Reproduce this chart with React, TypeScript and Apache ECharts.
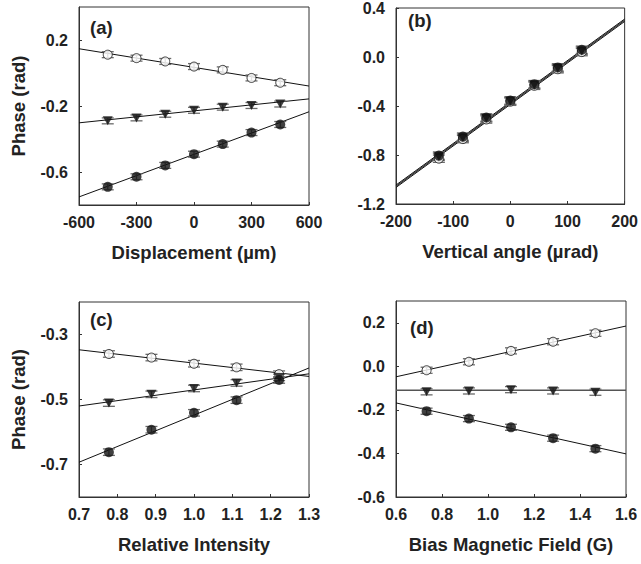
import React, { useEffect, useRef } from "react";
import * as echarts from "echarts";

// Panel (a): Displacement (µm)
const aX = [-450, -300, -150, 0, 150, 300, 450];
const aOpen = [0.111, 0.09, 0.07, 0.039, 0.019, -0.03, -0.059];
const aTri = [-0.29, -0.272, -0.25, -0.226, -0.207, -0.197, -0.188];
const aFilled = [-0.69, -0.629, -0.56, -0.492, -0.431, -0.361, -0.312];
const aErr = [0.018, 0.018, 0.018, 0.018, 0.018, 0.018, 0.018];
const aFitX = [-600, 600];
const aOpenFit = [0.147, -0.079];
const aTriFit = [-0.302, -0.157];
const aFilledFit = [-0.751, -0.235];

// Panel (b): Vertical angle (µrad)
const bX = [-125, -83, -42, 0, 42, 83, 125];
const bOpen = [-0.83, -0.67, -0.51, -0.365, -0.235, -0.1, 0.04];
const bTri = [-0.815, -0.66, -0.5, -0.36, -0.228, -0.092, 0.05];
const bFilled = [-0.805, -0.65, -0.494, -0.355, -0.222, -0.085, 0.059];
const bErr = [0.03, 0.03, 0.03, 0.03, 0.03, 0.03, 0.03];
const bFitX = [-200, 200];
const bOpenFit = [-1.065, 0.29];
const bTriFit = [-1.055, 0.3];
const bFilledFit = [-1.045, 0.31];

// Panel (c): Relative Intensity
const cX = [0.778, 0.889, 1.0, 1.111, 1.222];
const cOpen = [-0.36, -0.371, -0.39, -0.401, -0.422];
const cTri = [-0.511, -0.484, -0.466, -0.449, -0.432];
const cFilled = [-0.662, -0.593, -0.541, -0.502, -0.44];
const cErr = [0.01, 0.01, 0.01, 0.01, 0.01];
const cFitX = [0.7, 1.3];
const cOpenFit = [-0.347, -0.429];
const cTriFit = [-0.52, -0.421];
const cFilledFit = [-0.693, -0.403];

// Panel (d): Bias Magnetic Field (G)
const dX = [0.733, 0.917, 1.1, 1.283, 1.467];
const dOpen = [-0.018, 0.021, 0.071, 0.113, 0.152];
const dTri = [-0.117, -0.113, -0.107, -0.113, -0.119];
const dFilled = [-0.206, -0.24, -0.28, -0.33, -0.378];
const dErr = [0.014, 0.014, 0.014, 0.014, 0.014];
const dFitX = [0.6, 1.6];
const dOpenFit = [-0.048, 0.185];
const dTriFit = [-0.11, -0.11];
const dFilledFit = [-0.168, -0.402];

const FONT = "'Liberation Sans', Arial, sans-serif";

function errSeries(idx: number, xs: number[], ys: number[], errs: number[]) {
  return {
    type: "custom",
    xAxisIndex: idx,
    yAxisIndex: idx,
    z: 2,
    clip: true,
    data: xs.map((x, i) => [x, ys[i], errs[i]]),
    encode: { x: 0, y: 1 },
    renderItem: (params: any, api: any) => {
      const x = api.value(0);
      const y = api.value(1);
      const e = api.value(2);
      const top = api.coord([x, y + e]);
      const bot = api.coord([x, y - e]);
      const w = 6;
      const st = { stroke: "#6a6a6a", lineWidth: 1.3 };
      return {
        type: "group",
        children: [
          { type: "line", shape: { x1: top[0], y1: top[1], x2: bot[0], y2: bot[1] }, style: st },
          { type: "line", shape: { x1: top[0] - w, y1: top[1], x2: top[0] + w, y2: top[1] }, style: st },
          { type: "line", shape: { x1: bot[0] - w, y1: bot[1], x2: bot[0] + w, y2: bot[1] }, style: st },
        ],
      };
    },
  };
}

function fitSeries(idx: number, fx: number[], fy: number[], color = "#111", width = 1) {
  return {
    type: "line",
    xAxisIndex: idx,
    yAxisIndex: idx,
    z: 1,
    symbol: "none",
    data: fx.map((x, i) => [x, fy[i]]),
    lineStyle: { color, width },
    silent: true,
  };
}

function markSeries(idx: number, xs: number[], ys: number[], kind: "open" | "tri" | "filled") {
  const base: any = {
    type: "scatter",
    xAxisIndex: idx,
    yAxisIndex: idx,
    z: 3,
    data: xs.map((x, i) => [x, ys[i]]),
  };
  if (kind === "open") {
    base.symbol = "circle";
    base.symbolSize = 9;
    base.itemStyle = { color: "#fff", borderColor: "#111", borderWidth: 1 };
  } else if (kind === "tri") {
    base.symbol = "triangle";
    base.symbolRotate = 180;
    base.symbolSize = [10, 9];
    base.itemStyle = { color: "#111" };
  } else {
    base.symbol = "circle";
    base.symbolSize = 10;
    base.itemStyle = { color: "#111" };
  }
  return base;
}

function panelSeries(
  idx: number,
  xs: number[],
  open: number[],
  tri: number[],
  filled: number[],
  err: number[],
  fx: number[],
  of: number[],
  tf: number[],
  ff: number[],
  triFitColor = "#111",
  triFitWidth = 1
) {
  return [
    fitSeries(idx, fx, of),
    fitSeries(idx, fx, tf, triFitColor, triFitWidth),
    fitSeries(idx, fx, ff),
    errSeries(idx, xs, open, err),
    errSeries(idx, xs, tri, err),
    errSeries(idx, xs, filled, err),
    markSeries(idx, xs, open, "open"),
    markSeries(idx, xs, tri, "tri"),
    markSeries(idx, xs, filled, "filled"),
  ];
}

const axisCommon = {
  axisLine: { show: true, onZero: false, lineStyle: { color: "#333", width: 1 } },
  axisTick: { show: true, inside: true, length: 3, lineStyle: { color: "#333" } },
  splitLine: { show: false },
};

const labelStyle = { color: "#222", fontSize: 16, fontWeight: "bold" as const, fontFamily: FONT };
const nameStyle = { color: "#222", fontSize: 18.5, fontWeight: "bold" as const, fontFamily: FONT };

function xAxis(idx: number, min: number, max: number, interval: number, name: string, fmt: (v: number) => string) {
  return {
    type: "value",
    gridIndex: idx,
    min,
    max,
    interval,
    name,
    nameLocation: "middle",
    nameGap: 38,
    nameTextStyle: nameStyle,
    ...axisCommon,
    axisLabel: { ...labelStyle, margin: 9, formatter: fmt },
  };
}

function yAxis(idx: number, min: number, max: number, ticks: number[], name: string) {
  return {
    type: "value",
    gridIndex: idx,
    min,
    max,
    name,
    nameLocation: "middle",
    nameGap: 51,
    nameTextStyle: nameStyle,
    ...axisCommon,
    axisTick: { ...axisCommon.axisTick, customValues: ticks },
    axisLabel: { ...labelStyle, margin: 11, customValues: ticks, formatter: (v: number) => v.toFixed(1) },
  };
}

const grids = [
  { left: 79, top: 7, width: 230, height: 198 },
  { left: 396, top: 8, width: 230, height: 196 },
  { left: 79, top: 302, width: 230, height: 195 },
  { left: 396, top: 301, width: 230, height: 196 },
];

export default function App() {
  const ref = useRef<HTMLDivElement>(null);
  useEffect(() => {
    if (!ref.current) return;
    const chart = echarts.init(ref.current, null, { renderer: "svg" });
    const option: any = {
      animation: false,
      backgroundColor: "#fff",
      grid: grids.map((g) => ({ ...g, show: true, borderColor: "#333", borderWidth: 1, backgroundColor: "transparent" })),
      xAxis: [
        xAxis(0, -600, 600, 300, "Displacement (\u00b5m)", (v) => String(v)),
        xAxis(1, -200, 200, 100, "Vertical angle (\u00b5rad)", (v) => String(v)),
        xAxis(2, 0.7, 1.3, 0.1, "Relative Intensity", (v) => v.toFixed(1)),
        xAxis(3, 0.6, 1.6, 0.2, "Bias Magnetic Field (G)", (v) => v.toFixed(1)),
      ],
      yAxis: [
        yAxis(0, -0.8, 0.4, [-0.6, -0.2, 0.2], "Phase (rad)"),
        yAxis(1, -1.2, 0.4, [-1.2, -0.8, -0.4, 0, 0.4], ""),
        yAxis(2, -0.8, -0.2, [-0.7, -0.5, -0.3], "Phase (rad)"),
        yAxis(3, -0.6, 0.3, [-0.6, -0.4, -0.2, 0, 0.2], ""),
      ],
      graphic: [
        { type: "text", left: 90, top: 18, style: { text: "(a)", font: `bold 18.5px ${FONT}`, fill: "#222" } },
        { type: "text", left: 408, top: 11, style: { text: "(b)", font: `bold 18.5px ${FONT}`, fill: "#222" } },
        { type: "text", left: 90, top: 310, style: { text: "(c)", font: `bold 18.5px ${FONT}`, fill: "#222" } },
        { type: "text", left: 410, top: 318, style: { text: "(d)", font: `bold 18.5px ${FONT}`, fill: "#222" } },
      ],
      series: [
        ...panelSeries(0, aX, aOpen, aTri, aFilled, aErr, aFitX, aOpenFit, aTriFit, aFilledFit),
        ...panelSeries(1, bX, bOpen, bTri, bFilled, bErr, bFitX, bOpenFit, bTriFit, bFilledFit, "#333", 1.2),
        ...panelSeries(2, cX, cOpen, cTri, cFilled, cErr, cFitX, cOpenFit, cTriFit, cFilledFit),
        ...panelSeries(3, dX, dOpen, dTri, dFilled, dErr, dFitX, dOpenFit, dTriFit, dFilledFit, "#555", 1.4),
      ],
    };
    chart.setOption(option);
    return () => chart.dispose();
  }, []);
  return (
    <div
      ref={ref}
      style={{ position: "fixed", left: 0, top: 0, width: 641, height: 564, background: "#fff" }}
    />
  );
}
